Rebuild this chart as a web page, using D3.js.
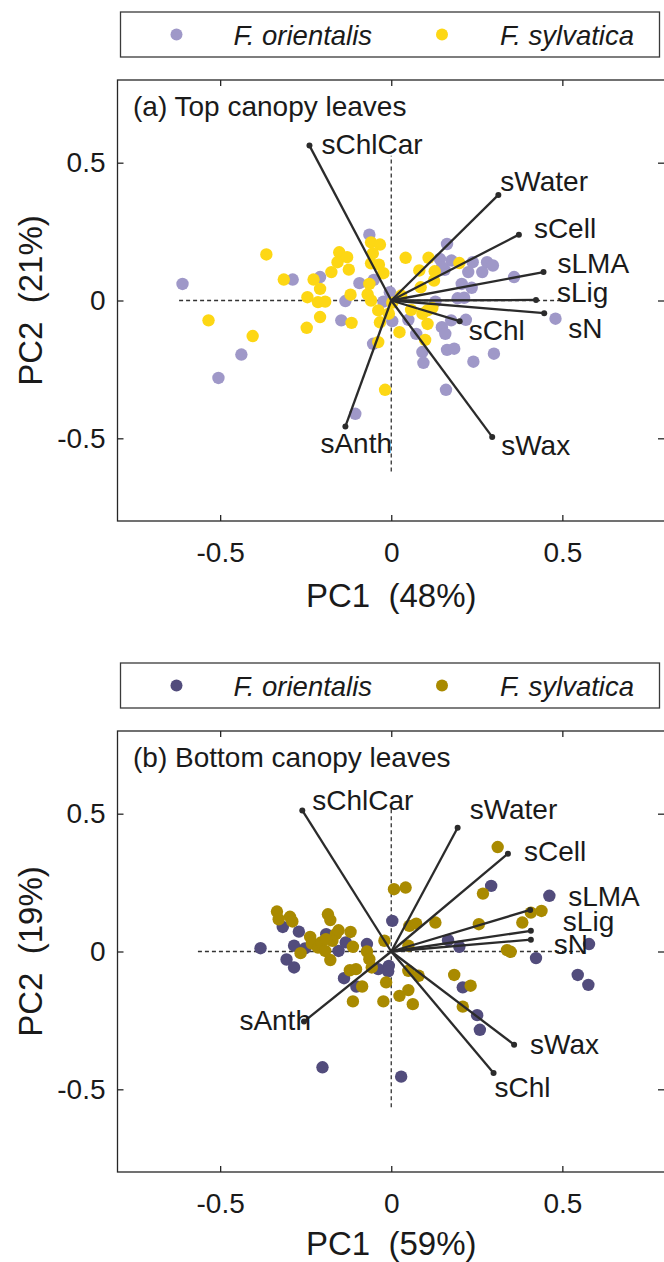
<!DOCTYPE html>
<html>
<head>
<meta charset="utf-8">
<script src="https://cdn.jsdelivr.net/npm/d3@7"></script>
<style>
  html, body { margin: 0; padding: 0; background: #ffffff; }
  svg { display: block; }
  text { font-family: "Liberation Sans", Arial, sans-serif; fill: #1a1a1a; }
</style>
</head>
<body>
<svg id="chart" width="664" height="1262"></svg>
<script>
// ---------------- DATA ----------------
const speciesNames = ["F. orientalis", "F. sylvatica"];
const tickValues = [-0.5, 0, 0.5];
const tickLabels = ["-0.5", "0", "0.5"];
const variableNames = ["sChlCar", "sWater", "sCell", "sLMA", "sLig", "sN", "sChl", "sWax", "sAnth"];

// Panel (a) top canopy — loadings [PC1, PC2]
const loadingsTop = [
  [-0.239, 0.562], [0.313, 0.383], [0.373, 0.239], [0.445, 0.103], [0.423, 0.002],
  [0.447, -0.046], [0.200, -0.075], [0.295, -0.495], [-0.134, -0.457]
];
// Panel (a) scores [PC1, PC2]
const orientalisTop = [
  [-0.610, 0.060], [-0.505, -0.281], [-0.438, -0.196], [-0.288, 0.076], [-0.208, 0.085],
  [-0.134, -0.002], [-0.146, -0.072], [-0.093, 0.063], [-0.064, 0.239], [-0.051, 0.075],
  [-0.053, -0.157], [-0.105, -0.411], [-0.023, -0.004], [0.003, -0.075], [-0.004, 0.030],
  [0.050, -0.070], [0.073, -0.121], [0.091, -0.187], [0.094, -0.226], [0.163, 0.205],
  [0.142, 0.151], [0.176, 0.145], [0.156, 0.111], [0.129, -0.004], [0.148, -0.097],
  [0.158, -0.121], [0.175, -0.072], [0.163, -0.179], [0.184, -0.175], [0.160, -0.324],
  [0.218, -0.070], [0.240, -0.222], [0.300, -0.193], [0.206, 0.060], [0.194, 0.008],
  [0.213, 0.010], [0.235, 0.046], [0.225, 0.103], [0.238, 0.139], [0.266, 0.103],
  [0.280, 0.139], [0.297, 0.127], [0.359, 0.085], [0.480, -0.066], [0.148, 0.121]
];
const sylvaticaTop = [
  [-0.534, -0.072], [-0.405, -0.129], [-0.365, 0.167], [-0.314, 0.076], [-0.247, -0.099],
  [-0.245, 0.012], [-0.227, 0.076], [-0.208, 0.042], [-0.214, -0.006], [-0.193, -0.004],
  [-0.208, -0.060], [-0.175, 0.103], [-0.152, 0.175], [-0.157, 0.139], [-0.129, 0.157],
  [-0.124, 0.112], [-0.119, 0.021], [-0.116, -0.081], [-0.069, 0.022], [-0.059, 0.211],
  [-0.033, 0.203], [-0.054, 0.171], [-0.059, 0.135], [-0.036, 0.130], [-0.023, 0.099],
  [-0.064, 0.060], [-0.038, -0.036], [-0.033, -0.079], [-0.007, -0.048], [-0.038, -0.151],
  [-0.018, -0.324], [0.024, -0.115], [0.029, 0.018], [0.042, 0.155], [0.058, -0.034],
  [0.082, 0.109], [0.086, 0.048], [0.091, -0.048], [0.106, -0.085], [0.106, -0.036],
  [0.109, 0.155], [0.120, -0.027], [0.125, 0.072], [0.127, 0.106], [0.199, 0.136],
  [0.099, -0.143], [0.003, -0.008], [-0.059, 0.000]
];

// Panel (b) bottom canopy — loadings [PC1, PC2]
const loadingsBottom = [
  [-0.260, 0.512], [0.194, 0.449], [0.341, 0.355], [0.406, 0.151], [0.408, 0.075],
  [0.408, 0.043], [0.299, -0.441], [0.359, -0.338], [-0.255, -0.254]
];
const orientalisBottom = [
  [-0.382, 0.012], [-0.317, 0.089], [-0.306, -0.029], [-0.284, -0.058], [-0.284, 0.021],
  [-0.270, 0.072], [-0.252, 0.011], [-0.201, -0.420], [-0.190, 0.063], [-0.154, 0.002],
  [-0.138, -0.097], [-0.102, -0.127], [-0.071, 0.027], [-0.038, -0.064], [-0.007, -0.052],
  [-0.009, -0.072], [0.003, 0.111], [0.029, -0.454], [0.166, 0.041], [0.199, 0.017],
  [0.209, -0.130], [0.251, -0.231], [0.259, -0.284], [0.292, 0.238], [0.423, -0.024],
  [0.462, 0.202], [0.545, -0.085], [0.576, -0.121], [0.578, 0.027], [-0.133, 0.033]
];
const sylvaticaBottom = [
  [-0.334, 0.145], [-0.329, 0.117], [-0.296, 0.126], [-0.289, 0.109], [-0.265, -0.006],
  [-0.237, 0.053], [-0.232, 0.029], [-0.214, 0.014], [-0.205, 0.033], [-0.193, 0.002],
  [-0.185, 0.135], [-0.178, 0.114], [-0.178, -0.031], [-0.172, 0.039], [-0.162, 0.063],
  [-0.154, 0.077], [-0.119, 0.071], [-0.112, 0.017], [-0.121, -0.068], [-0.103, -0.064],
  [-0.085, -0.127], [-0.112, -0.181], [-0.071, 0.000], [-0.064, -0.028], [-0.057, -0.058],
  [-0.020, 0.039], [-0.015, -0.112], [-0.023, -0.181], [0.008, 0.226], [0.042, 0.232],
  [0.053, 0.093], [0.073, 0.101], [0.050, 0.021], [0.050, -0.070], [0.080, -0.088],
  [0.063, -0.191], [0.024, -0.161], [0.050, -0.140], [0.129, 0.105], [0.184, -0.085],
  [0.232, -0.124], [0.209, -0.200], [0.256, 0.099], [0.268, 0.210], [0.311, 0.379],
  [0.338, 0.005], [0.349, -0.001], [0.383, 0.105], [0.408, 0.141], [0.439, 0.147],
  [-0.191, 0.045]
];

// ---------------- LAYOUT / STYLE ----------------
const FONT = 28;
const colorsTop = ["#9f98c8", "#fdd714"];
const colorsBottom = ["#524c7c", "#a98a00"];

// label offsets in px relative to vector endpoint: [dx, dyCenter, anchor]
const labelOffsetsTop = [
  [12, -2, "start"], [2, -14, "start"], [15, -7, "start"], [14, -9, "start"], [21, -8, "start"],
  [24, 15, "start"], [9, 9, "start"], [9, 8, "start"], [-25, 17, "start"]
];
const labelOffsetsBottom = [
  [10, -10, "start"], [12, -19, "start"], [16, -3, "start"], [38, -14, "start"], [32, -10, "start"],
  [23, 4, "start"], [1, 14, "start"], [16, -1, "start"], [7, -2, "end"]
];

const svg = d3.select("#chart");

function drawPanel(opts) {
  const x = d3.scaleLinear().domain([-0.8, 0.8]).range([117.5, 665]);
  const y = d3.scaleLinear().domain([-0.8, 0.8]).range([opts.bottom, opts.top]);
  const g = svg.append("g");

  // Legend
  const lg = g.append("g");
  lg.append("rect")
    .attr("x", 120.5).attr("y", opts.legendTop).attr("width", 539).attr("height", 45)
    .attr("fill", "#fff").attr("stroke", "#3a3a3a").attr("stroke-width", 1.3);
  const legX = [[176.5, 233.5], [442, 500]];
  speciesNames.forEach((nm, i) => {
    lg.append("circle").attr("cx", legX[i][0]).attr("cy", opts.legendTop + 22.5)
      .attr("r", 6).attr("fill", opts.colors[i]);
    lg.append("text").attr("x", legX[i][1]).attr("y", opts.legendTop + 32.5)
      .attr("font-size", FONT - 0.5).attr("font-style", "italic").text(nm);
  });

  // Box
  g.append("rect").attr("x", x(-0.8)).attr("y", y(0.8))
    .attr("width", x(0.8) - x(-0.8)).attr("height", y(-0.8) - y(0.8))
    .attr("fill", "none").attr("stroke", "#262626").attr("stroke-width", 1.3);

  // Axes
  const axB = d3.axisBottom(x).tickValues(tickValues).tickFormat((d, i) => tickLabels[i])
    .tickSizeInner(-6).tickSizeOuter(0).tickPadding(21);
  const axL = d3.axisLeft(y).tickValues(tickValues).tickFormat((d, i) => tickLabels[i])
    .tickSizeInner(-6).tickSizeOuter(0).tickPadding(12);
  const axT = d3.axisTop(x).tickValues(tickValues).tickFormat("").tickSizeInner(-6).tickSizeOuter(0);
  const axR = d3.axisRight(y).tickValues(tickValues).tickFormat("").tickSizeInner(-6).tickSizeOuter(0);

  const gb = g.append("g").attr("transform", `translate(0,${y(-0.8)})`).call(axB);
  const gl = g.append("g").attr("transform", `translate(${x(-0.8)},0)`).call(axL);
  const gt = g.append("g").attr("transform", `translate(0,${y(0.8)})`).call(axT);
  const gr = g.append("g").attr("transform", `translate(${x(0.8) - 1},0)`).call(axR);
  [gb, gl, gt, gr].forEach(a => {
    a.select(".domain").remove();
    a.selectAll("line").attr("stroke", "#262626").attr("stroke-width", 1.3);
    a.selectAll("text").attr("font-size", FONT).attr("fill", "#1a1a1a")
      .style("font-family", '"Liberation Sans", Arial, sans-serif');
  });

  // Axis titles
  g.append("text").attr("x", x(0)).attr("y", opts.xTitleY).attr("text-anchor", "middle")
    .attr("font-size", 33).attr("xml:space", "preserve").style("white-space", "pre").text(opts.xTitle);
  g.append("text").attr("transform", `translate(42,${y(0)}) rotate(-90)`).attr("text-anchor", "middle")
    .attr("font-size", 33).style("white-space", "pre").text(opts.yTitle);

  // Panel label
  g.append("text").attr("x", 133).attr("y", y(0.8) + 36).attr("font-size", FONT).text(opts.panelLabel);

  // Dashed zero lines
  g.append("line").attr("x1", x(opts.dash[0])).attr("x2", x(opts.dash[1]))
    .attr("y1", y(0)).attr("y2", y(0))
    .attr("stroke", "#333").attr("stroke-width", 1.3).attr("stroke-dasharray", "4,3");
  g.append("line").attr("x1", x(0)).attr("x2", x(0))
    .attr("y1", y(opts.dash[2])).attr("y2", y(opts.dash[3]))
    .attr("stroke", "#333").attr("stroke-width", 1.3).attr("stroke-dasharray", "4,3");

  // Scores
  opts.scores.forEach((arr, i) => {
    g.append("g").selectAll("circle").data(arr).join("circle")
      .attr("cx", d => x(d[0])).attr("cy", d => y(d[1])).attr("r", 6.2)
      .attr("fill", opts.colors[i]);
  });

  // Loading vectors
  const vg = g.append("g");
  opts.loadings.forEach((d, i) => {
    vg.append("line").attr("x1", x(0)).attr("y1", y(0)).attr("x2", x(d[0])).attr("y2", y(d[1]))
      .attr("stroke", "#2b2b2b").attr("stroke-width", 2.3);
    vg.append("circle").attr("cx", x(d[0])).attr("cy", y(d[1])).attr("r", 3).attr("fill", "#2b2b2b");
    const o = opts.labelOffsets[i];
    vg.append("text").attr("x", x(d[0]) + o[0]).attr("y", y(d[1]) + o[1] + 10)
      .attr("text-anchor", o[2]).attr("font-size", FONT).text(variableNames[i]);
  });
}

drawPanel({
  top: 80, bottom: 521, legendTop: 12,
  colors: colorsTop,
  scores: [orientalisTop, sylvaticaTop],
  loadings: loadingsTop, labelOffsets: labelOffsetsTop,
  dash: [-0.62, 0.52, -0.62, 0.525],
  panelLabel: "(a) Top canopy leaves",
  xTitle: "PC1  (48%)", yTitle: "PC2  (21%)", xTitleY: 607
});
drawPanel({
  top: 731, bottom: 1172, legendTop: 663,
  colors: colorsBottom,
  scores: [orientalisBottom, sylvaticaBottom],
  loadings: loadingsBottom, labelOffsets: labelOffsetsBottom,
  dash: [-0.565, 0.56, -0.565, 0.534],
  panelLabel: "(b) Bottom canopy leaves",
  xTitle: "PC1  (59%)", yTitle: "PC2  (19%)", xTitleY: 1255
});
</script>
</body>
</html>
